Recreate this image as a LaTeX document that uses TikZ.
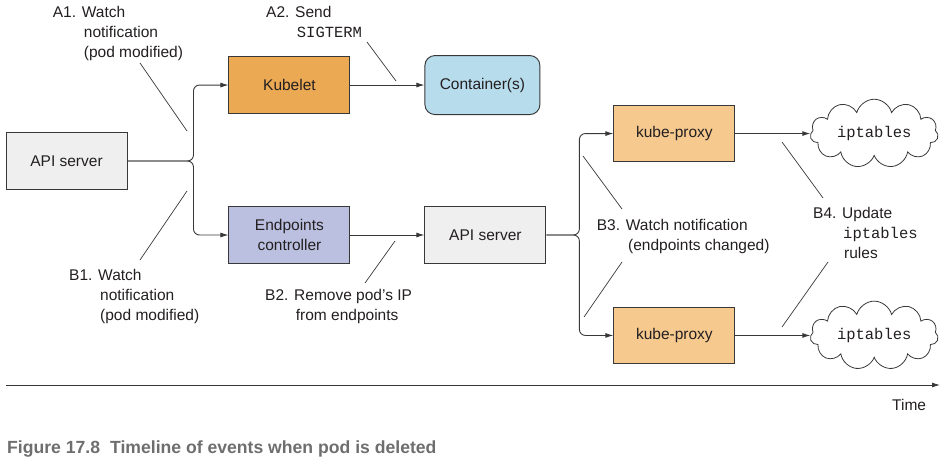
\documentclass[tikz,border=0pt]{standalone}
\usepackage{fontspec}
\setmainfont{Liberation Sans}
\setmonofont{Liberation Mono}
\usepackage{tikz}
\usetikzlibrary{shapes, shapes.symbols, arrows.meta, positioning}
\definecolor{apigray}{HTML}{EFEFF0}
\definecolor{kubeorange}{HTML}{EBA953}
\definecolor{contblue}{HTML}{B7DCEC}
\definecolor{endpurple}{HTML}{BBC0E0}
\definecolor{proxyorange}{HTML}{F6C98F}
\definecolor{linegray}{HTML}{383838}
\definecolor{capgray}{HTML}{6E6E6E}
\definecolor{textdark}{HTML}{231F20}
\tikzset{
    block/.style={rectangle, draw=linegray, line width=0.95pt, fill=apigray, align=center, minimum width=121pt, minimum height=57pt, inner sep=2pt, font=\fontsize{15.5}{20}\selectfont, text=textdark},
    cloudbox/.style={cloud, draw=linegray, line width=0.8pt, cloud puffs=11, aspect=2.2, minimum width=128pt, minimum height=60pt, inner sep=0pt, font=\ttfamily\fontsize{15.5}{20}\selectfont, text=textdark},
    arrow/.style={line width=0.9pt, draw=linegray, -{Latex[length=8pt, width=5pt]}},
    fork/.style={arrow, rounded corners=6pt},
    note/.style={anchor=north west, inner sep=0pt, align=left, font=\fontsize{15.5}{20}\selectfont, text=textdark},
    leader/.style={line width=0.7pt, draw=linegray}
}
\begin{document}
\begin{tikzpicture}[x=1pt, y=-1pt]
    \useasboundingbox (0,0) rectangle (941,460);

    % Nodes
    \node (api1) [block] at (66.5,161) {API server};
    \node (kubelet) [block, fill=kubeorange, above right=18pt and 101pt of api1] {Kubelet};
    \node (container) [block, fill=contblue, rounded corners=10pt, minimum width=115pt, minimum height=59pt, right=74pt of kubelet] {Container(s)};
    \node (endpoints) [block, fill=endpurple, below=92pt of kubelet] {Endpoints\\controller};
    \node (api2) [block, right=74pt of endpoints] {API server};
    \node (proxytop) [block, fill=proxyorange, minimum height=56pt, above right=44pt and 67pt of api2] {kube-proxy};
    \node (proxybot) [block, fill=proxyorange, minimum height=56pt, below right=43pt and 67pt of api2] {kube-proxy};
    \node (iptop) [cloudbox, right=75pt of proxytop] {iptables};
    \node (ipbot) [cloudbox, right=75pt of proxybot] {iptables};

    % Labels
    \node (a1) [note] at (52.7,6) {A1. Watch\\\hspace*{31pt}notification\\\hspace*{31pt}(pod modified)};
    \node (a2) [note] at (266,6) {A2. Send\\\hspace*{30.7pt}\texttt{SIGTERM}};
    \node (b1) [note] at (69,269) {B1. Watch\\\hspace*{31pt}notification\\\hspace*{31pt}(pod modified)};
    \node (b2) [note] at (265,289) {B2. Remove pod’s IP\\\hspace*{30.7pt}from endpoints};
    \node (b3) [note] at (596.7,219) {B3. Watch notification\\\hspace*{31.3pt}(endpoints changed)};
    \node (b4) [note] at (813,207) {B4. Update\\\hspace*{30pt}\texttt{iptables}\\\hspace*{31pt}rules};
    \node (time) [anchor=base west, inner sep=0pt, font=\fontsize{15.5}{20}\selectfont, text=textdark] at (892,410.7) {Time};
    \node (caption) [anchor=base west, inner sep=0pt, font=\bfseries\fontsize{17.6}{20}\selectfont, text=capgray] at (7,453.3) {Figure 17.8\hspace{10pt}Timeline of events when pod is deleted};

    % Leader lines
    \coordinate (a1s) at (140,63);  \coordinate (a1e) at (187,131);
    \coordinate (a2s) at (367,42);  \coordinate (a2e) at (396,81);
    \coordinate (b1s) at (187,191); \coordinate (b1e) at (140,260);
    \coordinate (b2s) at (395,241); \coordinate (b2e) at (365,283);
    \coordinate (b3s) at (583,156); \coordinate (b3e) at (622,209);
    \coordinate (b3t) at (622,262); \coordinate (b3u) at (584,317);
    \coordinate (b4s) at (782,142); \coordinate (b4e) at (823,198);
    \coordinate (b4t) at (828,262); \coordinate (b4u) at (782,327);
    \draw [leader] (a1s) -- (a1e);
    \draw [leader] (a2s) -- (a2e);
    \draw [leader] (b1s) -- (b1e);
    \draw [leader] (b2s) -- (b2e);
    \draw [leader] (b3s) -- (b3e);
    \draw [leader] (b3t) -- (b3u);
    \draw [leader] (b4s) -- (b4e);
    \draw [leader] (b4t) -- (b4u);

    % Arrows
    \draw [fork] (api1.east) -- ++(66,0) |- (kubelet.west);
    \draw [fork] (api1.east) -- ++(66,0) |- (endpoints.west);
    \draw [arrow] (kubelet) -- (container);
    \draw [arrow] (endpoints) -- (api2);
    \draw [fork] (api2.east) -- ++(33,0) |- (proxytop.west);
    \draw [fork] (api2.east) -- ++(33,0) |- (proxybot.west);
    \draw [arrow] (proxytop) -- (iptop);
    \draw [arrow] (proxybot) -- (ipbot);

    % Time axis
    \coordinate (tstart) at (6,385);
    \coordinate (tend) at (940,385);
    \draw [arrow] (tstart) -- (tend);

\end{tikzpicture}
\end{document}
